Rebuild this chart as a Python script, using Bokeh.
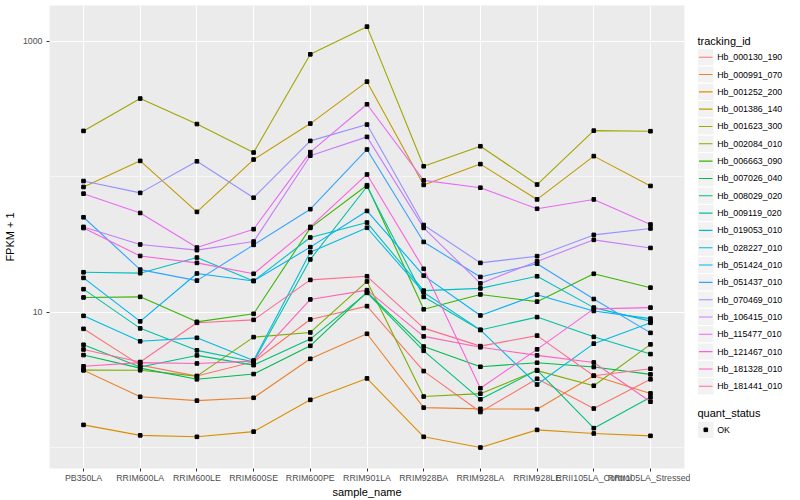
from bokeh.plotting import figure
from bokeh.models import Range1d, FixedTicker
from bokeh.layouts import row
from bokeh.core.properties import value
from bokeh.embed import file_html
from bokeh.resources import INLINE

samples = ["PB350LA", "RRIM600LA", "RRIM600LE", "RRIM600SE", "RRIM600PE", "RRIM901LA",
           "RRIM928BA", "RRIM928LA", "RRIM928LE", "RRII105LA_Control", "RRII105LA_Stressed"]

tracking_ids = ["Hb_000130_190", "Hb_000991_070", "Hb_001252_200", "Hb_001386_140", "Hb_001623_300",
                "Hb_002084_010", "Hb_006663_090", "Hb_007026_040", "Hb_008029_020", "Hb_009119_020",
                "Hb_019053_010", "Hb_028227_010", "Hb_051424_010", "Hb_051437_010", "Hb_070469_010",
                "Hb_106415_010", "Hb_115477_010", "Hb_121467_010", "Hb_181328_010", "Hb_181441_010"]

colors = ["#F8766D", "#EA8331", "#D89000", "#C09B00", "#A3A500", "#7CAE00", "#39B600", "#00BB4E",
          "#00BF7D", "#00C1A3", "#00BFC4", "#00BAE0", "#00B0F6", "#35A2FF", "#9590FF", "#C77CFF",
          "#E76BF3", "#FA62DB", "#FF62BC", "#FF6C91"]

# FPKM + 1 per sample (order of `samples`)
Hb_000130_190 = [7.53, 4.06, 3.37, 4.30, 8.83, 11.07, 3.67, 1.83, 3.22, 1.94, 3.19]
Hb_000991_070 = [3.72, 2.37, 2.22, 2.33, 4.52, 6.92, 1.97, 1.93, 1.92, 3.39, 2.51]
Hb_001252_200 = [1.47, 1.23, 1.20, 1.31, 2.25, 3.24, 1.20, 1.00, 1.35, 1.27, 1.22]
Hb_001386_140 = [84, 131, 55, 134, 247, 504, 87, 124, 68, 142, 85.5]
Hb_001623_300 = [218, 378, 245, 151, 802, 1284, 119.5, 168, 87.6, 219, 217]
Hb_002084_010 = [3.73, 3.72, 3.37, 6.54, 7.08, 16.85, 2.38, 2.50, 3.70, 2.86, 5.78]
Hb_006663_090 = [12.84, 12.97, 8.48, 9.72, 41.9, 86.6, 10.49, 13.51, 11.95, 19.2, 15.16]
Hb_007026_040 = [4.82, 3.86, 3.19, 3.49, 5.64, 14.05, 5.57, 3.95, 4.23, 3.93, 3.47]
Hb_008029_020 = [5.74, 3.93, 4.79, 4.06, 6.32, 13.88, 5.18, 2.27, 3.73, 1.39, 2.35]
Hb_009119_020 = [14.78, 7.59, 5.22, 4.30, 24.5, 84.7, 12.97, 7.39, 9.19, 6.57, 4.90]
Hb_019053_010 = [19.7, 19.4, 25.3, 17.0, 35.6, 45.9, 14.41, 14.98, 18.4, 10.8, 8.58]
Hb_028227_010 = [9.39, 6.09, 6.46, 4.39, 27.7, 42.0, 13.98, 7.40, 2.92, 5.85, 8.34]
Hb_051424_010 = [17.9, 8.55, 19.3, 17.0, 30.2, 55.9, 18.6, 9.45, 13.46, 10.2, 8.95]
Hb_051437_010 = [50.2, 20.6, 17.1, 31.4, 57.6, 159, 33.0, 18.2, 22.8, 12.5, 7.03]
Hb_070469_010 = [93, 76, 130, 70, 184, 243, 44, 23.1, 25.9, 37.2, 41.5]
Hb_106415_010 = [42.6, 31.6, 28.7, 33.2, 143, 197, 41.9, 16.3, 23.7, 34.2, 29.8]
Hb_115477_010 = [75, 54, 30, 41, 152, 343, 94, 83, 58, 68, 44.4]
Hb_121467_010 = [41.8, 26.0, 23.1, 19.2, 42.6, 104, 20.9, 2.74, 5.31, 10.57, 10.8]
Hb_181328_010 = [3.98, 4.24, 4.18, 4.35, 12.41, 14.53, 6.62, 5.50, 4.79, 4.25, 2.18]
Hb_181441_010 = [5.3, 4.28, 8.34, 8.77, 17.3, 18.4, 7.62, 5.61, 6.71, 3.39, 3.82]

series = [Hb_000130_190, Hb_000991_070, Hb_001252_200, Hb_001386_140, Hb_001623_300,
          Hb_002084_010, Hb_006663_090, Hb_007026_040, Hb_008029_020, Hb_009119_020,
          Hb_019053_010, Hb_028227_010, Hb_051424_010, Hb_051437_010, Hb_070469_010,
          Hb_106415_010, Hb_115477_010, Hb_121467_010, Hb_181328_010, Hb_181441_010]

y_ticks = [10, 1000]
y_minor = [1, 100]
quant_status = ["OK"]

FONT = "Liberation Sans"
TOP, BOTTOM = 5, 32   # borders round the panel
H = 500

xs = list(range(1, len(samples) + 1))

p = figure(width=690, height=H, x_range=Range1d(0.4, len(samples) + 0.6),
           y_range=Range1d(0.7, 1840), y_axis_type="log",
           output_backend="svg", toolbar_location=None,
           min_border_left=45, min_border_right=6, min_border_top=TOP, min_border_bottom=BOTTOM)
p.background_fill_color = "#EBEBEB"
p.border_fill_color = "white"
p.outline_line_color = None

for vals, col in zip(series, colors):
    p.line(xs, vals, line_color=col, line_width=1.1)

all_x = [x for vals in series for x in xs]
all_y = [v for vals in series for v in vals]
p.scatter(all_x, all_y, marker="square", size=3.6, color="black")

p.xaxis.ticker = FixedTicker(ticks=xs)
p.xaxis.major_label_overrides = {x: s for x, s in zip(xs, samples)}
p.xaxis.axis_label = "sample_name"
p.yaxis.ticker = FixedTicker(ticks=y_ticks, minor_ticks=y_minor)
p.yaxis.major_label_overrides = {t: str(t) for t in y_ticks}
p.yaxis.axis_label = "FPKM + 1"

for ax in (p.xaxis[0], p.yaxis[0]):
    ax.axis_line_color = None
    ax.major_tick_line_color = "#333333"
    ax.major_tick_out = 3
    ax.major_tick_in = 0
    ax.minor_tick_line_color = None
    ax.major_label_text_font = FONT
    ax.major_label_text_font_size = "8.8px"
    ax.major_label_text_color = "#4D4D4D"
    ax.major_label_standoff = 1
    ax.axis_label_text_font = FONT
    ax.axis_label_text_font_size = "11px"
    ax.axis_label_text_font_style = "normal"
    ax.axis_label_text_color = "black"
    ax.axis_label_standoff = 0
p.yaxis.major_label_standoff = 3
p.yaxis.axis_label_standoff = 4

p.xgrid.ticker = FixedTicker(ticks=xs)
p.xgrid.grid_line_color = "white"
p.xgrid.grid_line_width = 1.1
p.ygrid.grid_line_color = "white"
p.ygrid.grid_line_width = 1.1
p.ygrid.minor_grid_line_color = "white"
p.ygrid.minor_grid_line_width = 0.55

# legend panel, its data coordinates equal page pixels
LX0, LX1 = 690, 800
lg = figure(width=LX1 - LX0, height=H, x_range=Range1d(LX0, LX1), y_range=Range1d(H - BOTTOM, TOP),
            output_backend="svg", toolbar_location=None,
            min_border_left=0, min_border_right=0, min_border_top=TOP, min_border_bottom=BOTTOM)
lg.axis.visible = False
lg.grid.visible = False
lg.outline_line_color = None
lg.background_fill_color = "white"
lg.border_fill_color = "white"

step = 17.32
n = len(tracking_ids)
key_y = [56.7 + step * i for i in range(n)]
lg.rect([705.3] * n, key_y, width=16.5, height=step, fill_color="#F2F2F2", line_color="white", line_width=1)
lg.segment(x0=[698.5] * n, x1=[712.0] * n, y0=key_y, y1=key_y, line_color=colors, line_width=1.1)
lg.text([716.7] * n, key_y, text=tracking_ids, text_font=value(FONT),
        text_font_size=value("8.8px"), text_baseline="middle", text_color="black")
lg.text([697], [40.7], text=["tracking_id"], text_font=value(FONT), text_font_size=value("11px"),
        text_baseline="middle", text_color="black")
lg.text([697], [412.7], text=["quant_status"], text_font=value(FONT), text_font_size=value("11px"),
        text_baseline="middle", text_color="black")
ok_y = [429.3]
lg.rect([705.3], ok_y, width=16.5, height=step, fill_color="#F2F2F2", line_color="white", line_width=1)
lg.scatter([705.3], ok_y, marker="square", size=3.6, color="black")
lg.text([716.7], ok_y, text=quant_status, text_font=value(FONT), text_font_size=value("8.8px"),
        text_baseline="middle", text_color="black")

layout = row(p, lg, spacing=0)
open("out.html", "w").write(file_html(layout, INLINE))
